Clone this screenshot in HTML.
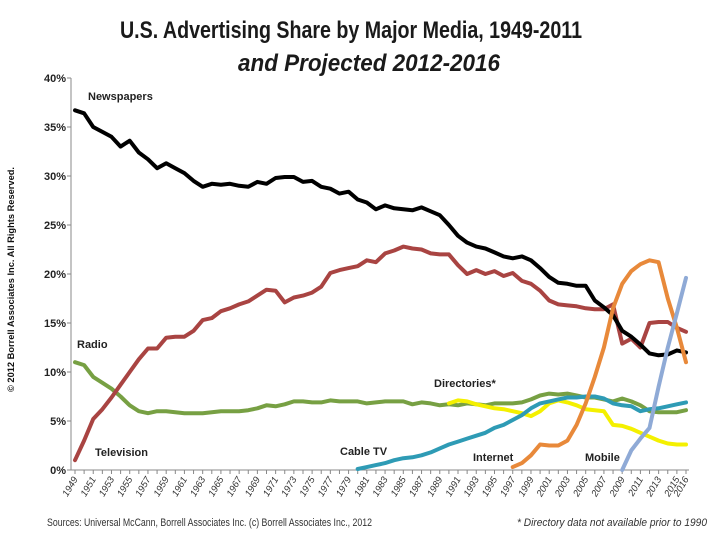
<!DOCTYPE html>
<html><head><meta charset="utf-8"><style>
html,body{margin:0;padding:0;background:#fff;}
svg{display:block;font-family:"Liberation Sans",sans-serif;}
</style></head><body>
<svg id="chart" width="728" height="546" viewBox="0 0 728 546" xmlns="http://www.w3.org/2000/svg">
<text x="120" y="38" font-size="24" font-weight="bold" textLength="462" lengthAdjust="spacingAndGlyphs" fill="#1a1a1a">U.S. Advertising Share by Major Media, 1949-2011</text>
<text x="238" y="71" font-size="24" font-weight="bold" font-style="italic" textLength="262" lengthAdjust="spacingAndGlyphs" fill="#1a1a1a">and Projected 2012-2016</text>
<text transform="translate(14,392) rotate(-90)" font-size="9.5" font-weight="bold" textLength="225" lengthAdjust="spacingAndGlyphs" fill="#111">© 2012 Borrell Associates Inc.  All Rights Reserved.</text>
<g id="axes"></g>
<g id="series"></g>
<g font-size="11" font-weight="bold" fill="#222">
<text x="88" y="100">Newspapers</text>
<text x="77" y="348">Radio</text>
<text x="95" y="456">Television</text>
<text x="340" y="455">Cable TV</text>
<text x="434" y="387">Directories*</text>
<text x="473" y="461">Internet</text>
<text x="585" y="461">Mobile</text>
</g>
<text x="47" y="526" font-size="11" textLength="325" lengthAdjust="spacingAndGlyphs" fill="#333">Sources:  Universal McCann, Borrell Associates Inc.  (c) Borrell Associates Inc., 2012</text>
<text x="517" y="526" font-size="11" font-style="italic" textLength="190" lengthAdjust="spacingAndGlyphs" fill="#333">* Directory data not available  prior to 1990</text>
</svg>
<script>
const startYear = 1949;
const endYear = 2016;
const yTicks = [0,5,10,15,20,25,30,35,40];
const newspapers = [36.7,36.4,35.0,34.5,34.0,33.0,33.6,32.4,31.7,30.8,
31.3,30.8,30.3,29.5,28.9,29.2,29.1,29.2,29.0,28.9,
29.4,29.2,29.8,29.9,29.9,29.4,29.5,28.9,28.7,28.2,
28.4,27.6,27.3,26.6,27.0,26.7,26.6,26.5,26.8,26.4,
26.0,25.0,23.9,23.2,22.8,22.6,22.2,21.8,21.6,21.8,
21.4,20.6,19.7,19.1,19.0,18.8,18.8,17.3,16.6,15.8,
14.2,13.6,12.8,11.9,11.7,11.8,12.2,12.0];
const television = [1.0,3.0,5.2,6.2,7.4,8.7,10.0,11.3,12.4,12.4,
13.5,13.6,13.6,14.2,15.3,15.5,16.2,16.5,16.9,17.2,
17.8,18.4,18.3,17.1,17.6,17.8,18.1,18.7,20.1,20.4,
20.6,20.8,21.4,21.2,22.1,22.4,22.8,22.6,22.5,22.1,
22.0,22.0,20.9,20.0,20.4,20.0,20.3,19.8,20.1,19.3,
19.0,18.3,17.3,16.9,16.8,16.7,16.5,16.4,16.4,16.9,
12.9,13.4,12.5,15.0,15.1,15.1,14.5,14.1];
const radio = [11.0,10.7,9.5,8.9,8.3,7.5,6.6,6.0,5.8,6.0,
6.0,5.9,5.8,5.8,5.8,5.9,6.0,6.0,6.0,6.1,
6.3,6.6,6.5,6.7,7.0,7.0,6.9,6.9,7.1,7.0,
7.0,7.0,6.8,6.9,7.0,7.0,7.0,6.7,6.9,6.8,
6.6,6.7,6.6,6.8,6.7,6.6,6.8,6.8,6.8,6.9,
7.2,7.6,7.8,7.7,7.8,7.6,7.4,7.4,7.2,7.0,
7.3,7.0,6.6,6.0,5.9,5.9,5.9,6.1];
const directoriesStart = 1990;
const directories = [6.8,7.1,7.0,6.7,6.5,6.3,6.2,6.0,5.8,5.5,6.0,6.8,7.1,6.9,6.6,6.2,6.1,6.0,4.6,4.5,4.2,3.8,3.4,3.0,2.7,2.6,2.6];
const cableStart = 1980;
const cableTv = [0.1,0.3,0.5,0.7,1.0,1.2,1.3,1.5,1.8,2.2,2.6,2.9,3.2,3.5,3.8,4.3,4.6,5.1,5.6,6.3,6.8,7.0,7.2,7.4,7.4,7.5,7.5,7.3,6.8,6.6,6.5,6.0,6.2,6.3,6.5,6.7,6.9];
const internetStart = 1997;
const internet = [0.3,0.7,1.5,2.6,2.5,2.5,3.0,4.6,6.8,9.5,12.5,16.5,19.0,20.3,21.0,21.4,21.2,17.5,14.5,11.0];
const mobileStart = 2009;
const mobile = [0.0,2.0,3.2,4.3,8.5,12.5,16.0,19.6];

const NS="http://www.w3.org/2000/svg";
const X0=75, X1=686, Y0=470, Y1=78, AX=71;
const xScale = yr => X0 + (yr-startYear)*(X1-X0)/(endYear-startYear);
const yScale = v => Y0 - v*(Y0-Y1)/40;
function mk(tag, attrs, parent){const e=document.createElementNS(NS,tag);for(const k in attrs)e.setAttribute(k,attrs[k]);parent.appendChild(e);return e;}
const axes=document.getElementById('axes');
const yAxis=mk('line',{x1:AX,y1:Y1,x2:AX,y2:Y0,stroke:'#888','stroke-width':1},axes);


const xAxis=mk('line',{x1:AX,y1:Y0,x2:X1+3,y2:Y0,stroke:'#888','stroke-width':1},axes);


yTicks.forEach(t=>{
  const y=yScale(t);
  mk('line',{x1:AX-4,y1:y,x2:AX,y2:y,stroke:'#888'},axes);
  const tx=mk('text',{x:AX-5,y:y+4,'text-anchor':'end','font-size':11,'font-weight':'bold',fill:'#222'},axes);
  tx.textContent=t+'%';
  
  
});
for(let yr=startYear; yr<=endYear; yr++){
  const x=xScale(yr);
  mk('line',{x1:x,y1:Y0,x2:x,y2:Y0+4,stroke:'#888'},axes);
  if((yr-startYear)%2===0 || yr===endYear){
    const tx=mk('text',{transform:`translate(${x+3},${Y0+9}) rotate(-60)`,'text-anchor':'end','font-size':9.5,'font-style':'italic',fill:'#333'},axes);
    tx.textContent=yr;
    
    
  }
}
const sg=document.getElementById('series');
function draw(vals,start,color,name){
  const d=vals.map((v,i)=>(i?'L':'M')+xScale(start+i).toFixed(1)+','+yScale(v).toFixed(1)).join(' ');
  const p=mk('path',{d:d,fill:'none',stroke:color,'stroke-width':4,'stroke-linejoin':'round','stroke-linecap':'round'},sg);
  
  
}
draw(radio,startYear,'#77a043','line-radio');
draw(directories,directoriesStart,'#f4f000','line-directories');
draw(cableTv,cableStart,'#2e9bb5','line-cable-tv');
draw(television,startYear,'#a94442','line-television');
draw(newspapers,startYear,'#000000','line-newspapers');
draw(internet,internetStart,'#e8893a','line-internet');
draw(mobile,mobileStart,'#8faad6','line-mobile');
</script>
</body></html>
